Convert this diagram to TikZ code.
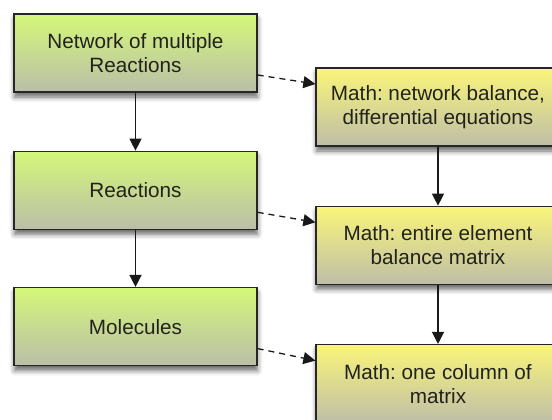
\documentclass[tikz,border=0pt]{standalone}
\usepackage{fontspec}
\setmainfont{Liberation Sans}
\frenchspacing
\usetikzlibrary{arrows.meta,positioning,shadows.blur}
\definecolor{layerTop}{RGB}{212,247,122}
\definecolor{layerBot}{RGB}{186,190,168}
\definecolor{mathTop}{RGB}{250,245,122}
\definecolor{mathBot}{RGB}{190,190,168}
\definecolor{boxText}{RGB}{34,34,28}

\begin{document}
\begin{tikzpicture}[
  layerbox/.style={draw=black!85, line width=1.3pt, top color=layerTop, bottom color=layerBot,
                   minimum width=243pt, minimum height=78pt, align=center, text=boxText,
                   font=\fontsize{20.7}{24}\selectfont,
                   blur shadow={shadow xshift=0.5pt, shadow yshift=-5pt,
                                shadow blur radius=5pt, shadow opacity=60}},
  mathbox/.style={layerbox, top color=mathTop, bottom color=mathBot, minimum width=244pt},
  flowarrow/.style={-{Triangle[length=12pt,width=12pt]}, line width=1.3pt, black!90},
  dasharrow/.style={flowarrow, dash pattern=on 6pt off 5pt}
]
  \clip (0,0) rectangle (552pt,-420pt);

  % levels of description
  \node[layerbox] at (135.5pt,-53pt)       (net) {Network of multiple\\Reactions};
  \node[layerbox, below=58pt of net]       (rxn) {Reactions};
  \node[layerbox, below=57pt of rxn]       (mol) {Molecules};

  % matching math
  \node[mathbox] at (438pt,-107pt)         (mnet) {Math: network balance,\\differential equations};
  \node[mathbox, below=59pt of mnet]       (mrxn) {Math: entire element\\balance matrix};
  \node[mathbox, below=59pt of mrxn]       (mmol) {Math: one column of\\matrix};

  \draw[flowarrow] (net) -- (rxn);
  \draw[flowarrow] (rxn) -- (mol);
  \draw[flowarrow] (mnet) -- (mrxn);
  \draw[flowarrow] (mrxn) -- (mmol);

  \draw[dasharrow] ([yshift=-22pt]net.east) -- ([yshift=23pt]mnet.west);
  \draw[dasharrow] ([yshift=-22pt]rxn.east) -- ([yshift=23pt]mrxn.west);
  \draw[dasharrow] ([yshift=-22pt]mol.east) -- ([yshift=23pt]mmol.west);
\end{tikzpicture}
\end{document}
